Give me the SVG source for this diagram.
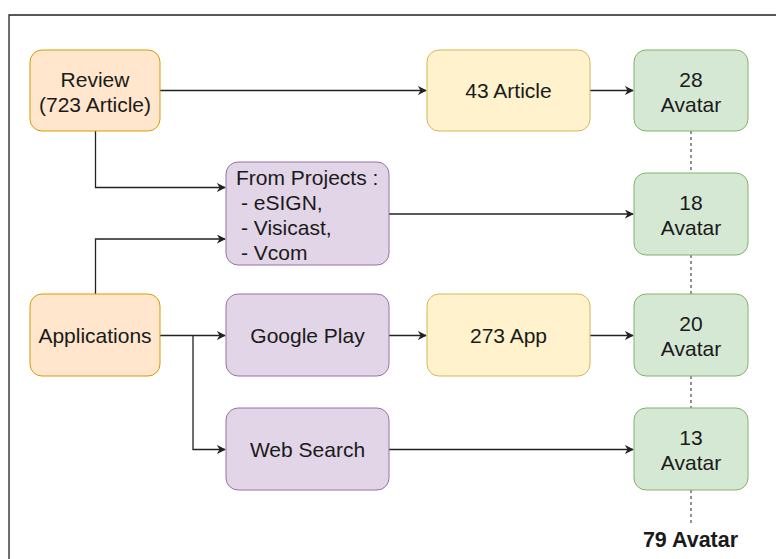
<svg xmlns="http://www.w3.org/2000/svg" width="776" height="559" viewBox="0 0 776 559">
<defs>
<style>
text{font-family:"Liberation Sans",Arial,sans-serif;font-size:21px;fill:#1a1a1a;text-anchor:middle}
.l{text-anchor:start}
.b{font-weight:bold;font-size:21.5px}
.or{fill:#ffe6cc;stroke:#d79b00;stroke-width:1}
.ye{fill:#fff2cc;stroke:#d6b656;stroke-width:1}
.pu{fill:#e1d5e7;stroke:#9673a6;stroke-width:1}
.gr{fill:#d5e8d4;stroke:#82b366;stroke-width:1}
.e{fill:none;stroke:#222;stroke-width:1.3}
.d{fill:none;stroke:#222;stroke-width:1;stroke-dasharray:3 3}
</style>
<marker id="a" viewBox="0 0 10 10" refX="9" refY="5" markerWidth="9" markerHeight="9" markerUnits="userSpaceOnUse" orient="auto">
<path d="M0,0 L10,5 L0,10 L3,5 Z" fill="#222"/>
</marker>
</defs>
<rect width="776" height="559" fill="#fff"/>
<path d="M9,559 V15 H776" fill="none" stroke="#222" stroke-width="1.3"/>
<g id="connectors">
<path class="e" d="M160,90.5 H426" marker-end="url(#a)"/>
<path class="e" d="M590,90.5 H633" marker-end="url(#a)"/>
<path class="e" d="M95.5,131 V187.5 H225" marker-end="url(#a)"/>
<path class="e" d="M95.5,294 V239 H225" marker-end="url(#a)"/>
<path class="e" d="M389,214 H633" marker-end="url(#a)"/>
<path class="e" d="M160,335.5 H225" marker-end="url(#a)"/>
<path class="e" d="M193,335.5 V449.5 H225" marker-end="url(#a)"/>
<path class="e" d="M389,335.5 H426" marker-end="url(#a)"/>
<path class="e" d="M590,335.5 H633" marker-end="url(#a)"/>
<path class="e" d="M389,449.5 H633" marker-end="url(#a)"/>
<path class="d" d="M691,131 V173 M691,255 V294 M691,376 V408 M691,490 V523"/>
</g>
<g id="review"><rect class="or" x="30" y="50" width="130" height="81" rx="12"/><text x="95" y="87">Review</text><text x="95" y="112">(723 Article)</text></g>
<g id="applications"><rect class="or" x="30" y="294" width="130" height="82" rx="12"/><text x="95" y="343">Applications</text></g>
<g id="projects"><rect class="pu" x="226" y="162" width="163" height="103" rx="12"/><text class="l" x="236" y="185">From Projects :</text><text class="l" x="241" y="210">- eSIGN,</text><text class="l" x="241" y="235">- Visicast,</text><text class="l" x="241" y="259.5">- Vcom</text></g>
<g id="googleplay"><rect class="pu" x="226" y="294" width="163" height="82" rx="12"/><text x="307.5" y="343">Google Play</text></g>
<g id="websearch"><rect class="pu" x="226" y="408" width="163" height="82" rx="12"/><text x="307.5" y="457">Web Search</text></g>
<g id="article43"><rect class="ye" x="427" y="50" width="163" height="81" rx="12"/><text x="508.5" y="98">43 Article</text></g>
<g id="app273"><rect class="ye" x="427" y="294" width="163" height="82" rx="12"/><text x="508.5" y="343">273 App</text></g>
<g id="avatar28"><rect class="gr" x="634" y="50" width="114" height="81" rx="12"/><text x="691" y="86.5">28</text><text x="691" y="111.5">Avatar</text></g>
<g id="avatar18"><rect class="gr" x="634" y="173" width="114" height="82" rx="12"/><text x="691" y="209.5">18</text><text x="691" y="234.5">Avatar</text></g>
<g id="avatar20"><rect class="gr" x="634" y="294" width="114" height="82" rx="12"/><text x="691" y="330.5">20</text><text x="691" y="355.5">Avatar</text></g>
<g id="avatar13"><rect class="gr" x="634" y="408" width="114" height="82" rx="12"/><text x="691" y="444.5">13</text><text x="691" y="469.5">Avatar</text></g>
<g id="total"><text class="b" x="690.5" y="547">79 Avatar</text></g>
</svg>
